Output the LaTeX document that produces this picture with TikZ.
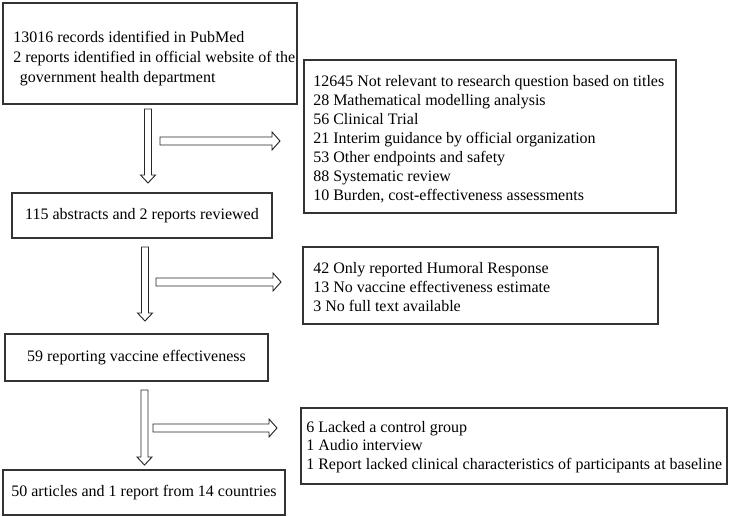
\documentclass[tikz,border=0pt]{standalone}
\usepackage{fontspec}
\setmainfont{Liberation Serif}
\usetikzlibrary{calc}
\tikzset{
  box/.style={draw=black!80, line width=1pt, inner sep=0pt},
  txt/.style={align=left, inner sep=0pt, font=\fontsize{12}{14.25}\selectfont},
  ctxt/.style={font=\fontsize{12}{14.25}\selectfont},
  blk/.style={draw=black!85, line width=0.7pt, fill=white, line join=miter},
}
\newcommand\vblock[2]{\draw[blk] ($(#1)+(-3.5,0)$) -- ($(#2)+(-3.5,-8)$) -- ($(#2)+(-7.5,-8)$) -- (#2) -- ($(#2)+(7.5,-8)$) -- ($(#2)+(3.5,-8)$) -- ($(#1)+(3.5,0)$) -- cycle;}
\newcommand\hblock[2]{\draw[blk] ($(#1)+(0,-4)$) -- ($(#2)+(-8,-4)$) -- ($(#2)+(-8,-9)$) -- (#2) -- ($(#2)+(-8,9)$) -- ($(#2)+(-8,4)$) -- ($(#1)+(0,4)$) -- cycle;}
\begin{document}
\begin{tikzpicture}[x=0.75pt,y=-0.75pt]
\useasboundingbox (0,0) rectangle (729,517);
% boxes
\node[box, minimum width=220.5pt, minimum height=75.75pt] (b1) at (150,53.5) {};
\node[box, minimum width=279pt, minimum height=114.75pt] (b2) at (490,136.5) {};
\node[box, ctxt, minimum width=195pt, minimum height=33.75pt] (b3) at (142,215.5) {115 abstracts and 2 reports reviewed};
\node[box, minimum width=266.25pt, minimum height=57.75pt] (b4) at (480.5,285.5) {};
\node[box, ctxt, minimum width=197.25pt, minimum height=35.25pt] (b5) at (136.5,357.5) {59 reporting vaccine effectiveness};
\node[box, minimum width=319.5pt, minimum height=57pt] (b6) at (514,446) {};
\node[box, ctxt, minimum width=211.5pt, minimum height=33.75pt] (b7) at (144,492.5) {50 articles and 1 report from 14 countries};
% texts
\node[txt, font=\fontsize{12}{15}\selectfont, anchor=west] (t1) at (13,59) {13016 records identified in PubMed\\2 reports identified in official website of the\\\hspace*{5pt}government health department};
\node[txt, anchor=west] (t2) at (313,139) {12645 Not relevant to research question based on titles\\28 Mathematical modelling analysis\\56 Clinical Trial\\21 Interim guidance by official organization\\53 Other endpoints and safety\\88 Systematic review\\10 Burden, cost-effectiveness assessments};
\node[txt, font=\fontsize{12}{13.9}\selectfont, anchor=west] (t4) at (313,287) {42 Only reported Humoral Response\\13 No vaccine effectiveness estimate\\3 No full text available};
\node[txt, font=\fontsize{12}{13.9}\selectfont, anchor=west] (t6) at (306,447) {6 Lacked a control group\\1 Audio interview\\1 Report lacked clinical characteristics of participants at baseline};
% arrow end points
\coordinate (v1s) at (148,109); \coordinate (v1e) at (148,183);
\coordinate (h1s) at (160,141); \coordinate (h1e) at (280,141);
\coordinate (v2s) at (145,247); \coordinate (v2e) at (145,321);
\coordinate (h2s) at (156,282); \coordinate (h2e) at (281,282);
\coordinate (v3s) at (144.5,390); \coordinate (v3e) at (144.5,465);
\coordinate (h3s) at (153,428); \coordinate (h3e) at (277,428);
\vblock{v1s}{v1e}
\hblock{h1s}{h1e}
\vblock{v2s}{v2e}
\hblock{h2s}{h2e}
\vblock{v3s}{v3e}
\hblock{h3s}{h3e}
\end{tikzpicture}
\end{document}
